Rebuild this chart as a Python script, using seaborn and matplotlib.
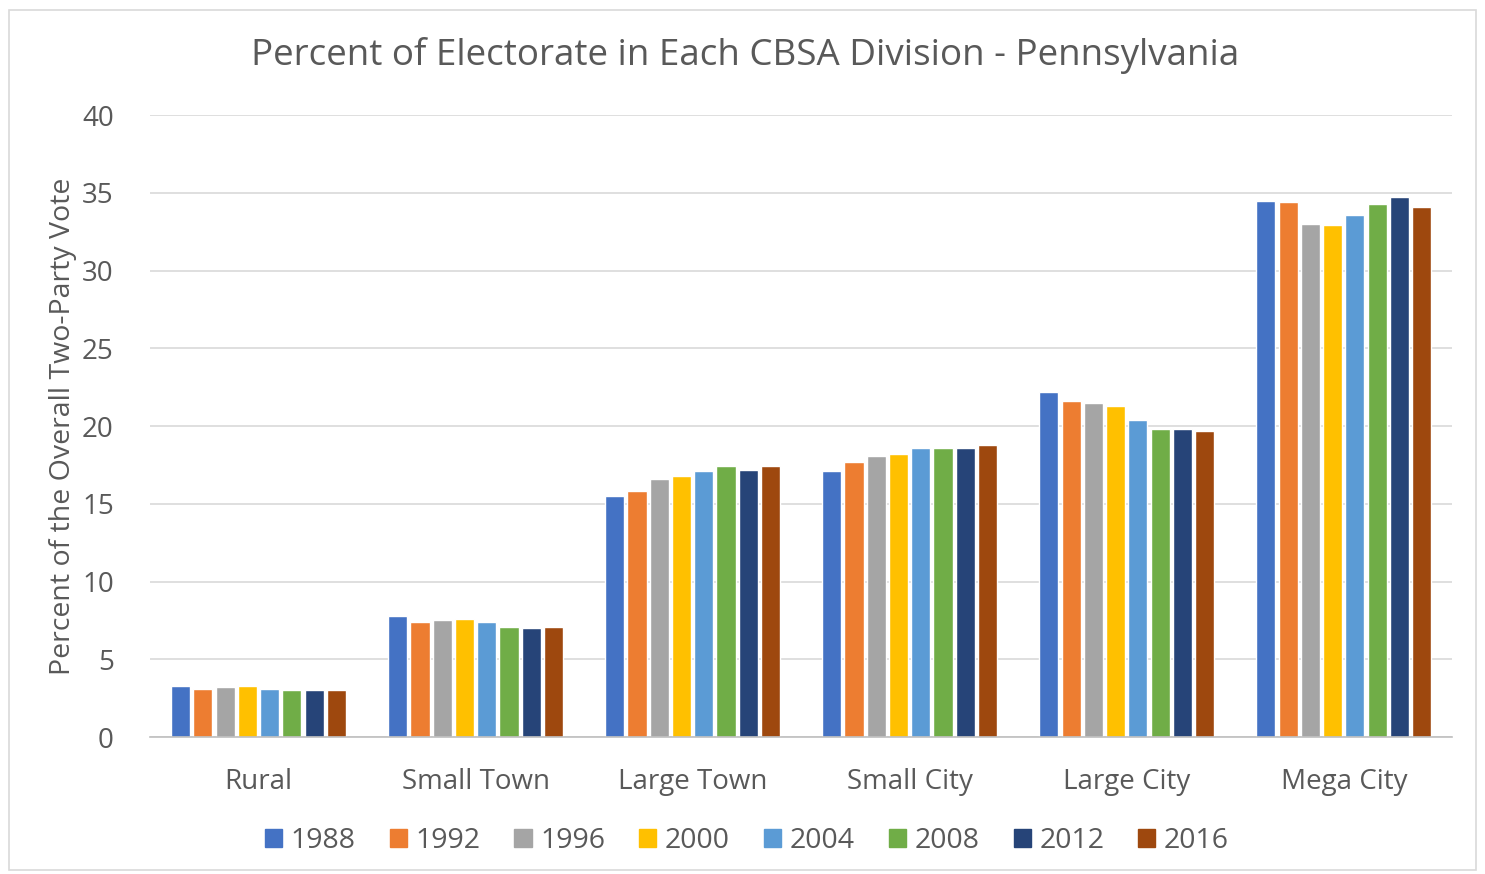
import matplotlib
matplotlib.use("Agg")
import matplotlib.pyplot as plt
import matplotlib.patches as mpatches
import pandas as pd
import seaborn as sns

categories = ["Rural", "Small Town", "Large Town", "Small City", "Large City", "Mega City"]
years = ["1988", "1992", "1996", "2000", "2004", "2008", "2012", "2016"]

share_1988 = [3.3, 7.8, 15.5, 17.1, 22.2, 34.5]
share_1992 = [3.1, 7.4, 15.8, 17.7, 21.6, 34.4]
share_1996 = [3.2, 7.5, 16.6, 18.1, 21.5, 33.0]
share_2000 = [3.3, 7.6, 16.8, 18.2, 21.3, 32.9]
share_2004 = [3.1, 7.4, 17.1, 18.6, 20.4, 33.6]
share_2008 = [3.0, 7.1, 17.4, 18.6, 19.8, 34.3]
share_2012 = [3.0, 7.0, 17.2, 18.6, 19.8, 34.7]
share_2016 = [3.0, 7.1, 17.4, 18.8, 19.7, 34.1]

colors = ["#4472C4", "#ED7D31", "#A5A5A5", "#FFC000",
          "#5B9BD5", "#70AD47", "#264478", "#9E480E"]

series = [share_1988, share_1992, share_1996, share_2000,
          share_2004, share_2008, share_2012, share_2016]

rows = []
for yr, vals in zip(years, series):
    for cat, v in zip(categories, vals):
        rows.append({"category": cat, "year": yr, "share": v})
df = pd.DataFrame(rows)

sns.set_theme(style="white")
plt.rcParams["font.family"] = ["Open Sans", "DejaVu Sans"]
text_color = "#595959"

fig = plt.figure(figsize=(14.85, 8.74), dpi=100)
ax = fig.add_axes([0.101, 0.1567, 0.877, 0.7117])

sns.barplot(data=df, x="category", y="share", hue="year",
            order=categories, hue_order=years, palette=colors,
            width=0.82, gap=0.14, saturation=1, ax=ax, legend=False,
            errorbar=None)

ax.set_ylim(0, 40)
ax.set_xlim(-0.5, 5.5)
ax.set_yticks(range(0, 41, 5))
ax.yaxis.grid(True, color="#D9D9D9", linewidth=1.2)
ax.set_axisbelow(True)
for side in ["top", "right", "left"]:
    ax.spines[side].set_visible(False)
ax.spines["bottom"].set_color("#BFBFBF")
ax.spines["bottom"].set_linewidth(1.2)

ax.tick_params(axis="both", length=0, colors=text_color, labelsize=20)
ax.tick_params(axis="y", pad=26)
ax.tick_params(axis="x", pad=22)
ax.set_xlabel("")
ax.set_ylabel("Percent of the Overall Two-Party Vote", fontsize=20.5,
              color=text_color, labelpad=4)

fig.suptitle("Percent of Electorate in Each CBSA Division - Pennsylvania",
             fontsize=26.5, color=text_color, y=0.958, x=0.502)

handles = [mpatches.Patch(color=c, label=y) for c, y in zip(colors, years)]
fig.legend(handles=handles, loc="center", bbox_to_anchor=(0.503, 0.038),
           ncol=8, frameon=False, fontsize=20.5, labelcolor=text_color,
           handlelength=0.6, handleheight=0.6, handletextpad=0.3,
           columnspacing=1.2)

border = mpatches.Rectangle((0.006, 0.005), 0.988, 0.983,
                            transform=fig.transFigure, fill=False,
                            edgecolor="#D9D9D9", linewidth=1.2)
fig.patches.append(border)

fig.savefig("out.png", dpi=100, facecolor="white")
